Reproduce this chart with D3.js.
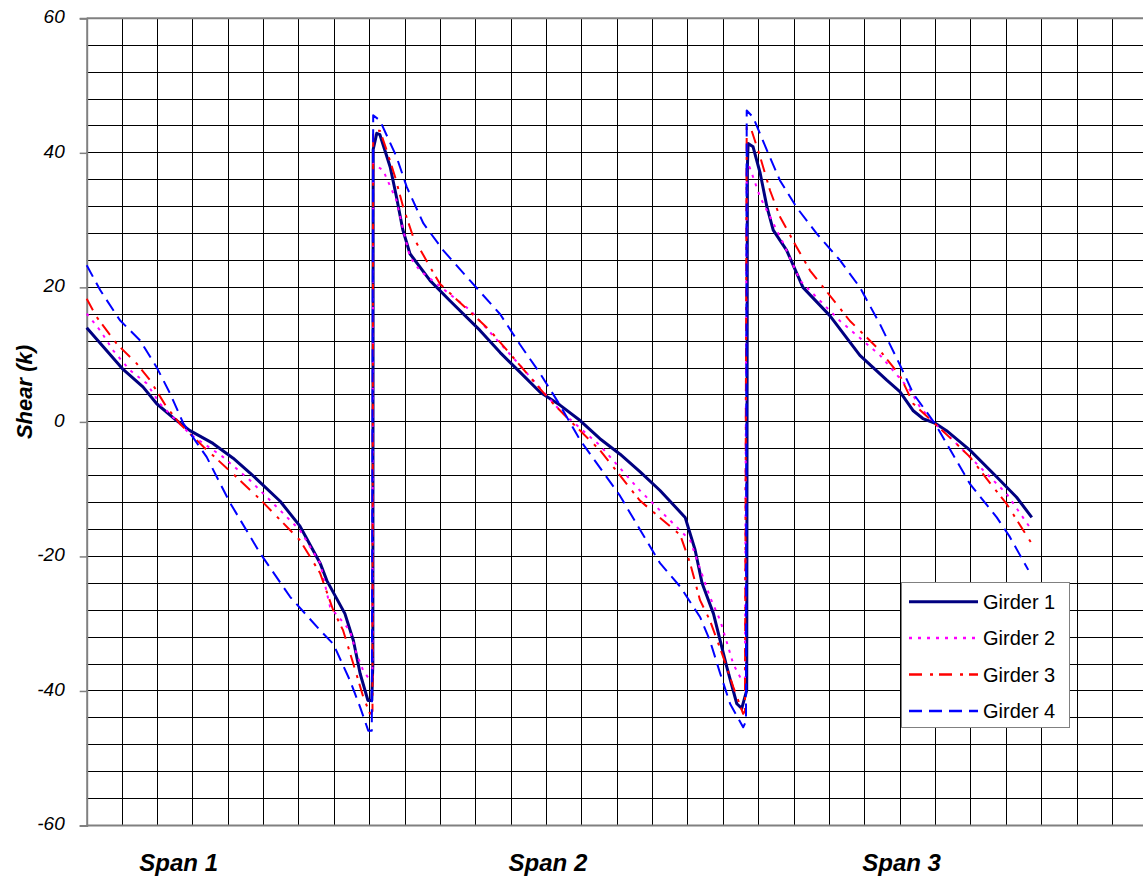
<!DOCTYPE html>
<html>
<head>
<meta charset="utf-8">
<script src="https://cdnjs.cloudflare.com/ajax/libs/d3/7.8.5/d3.min.js"></script>
<style>
  body { margin: 0; background: #fff; }
  svg { display: block; font-family: "Liberation Sans", Arial, sans-serif; }
</style>
</head>
<body>
<svg id="chart"></svg>
<script>
// x in grid units along the bridge, shear in kips
var girder1 = [[0,14.0],[1.03,7.8],[1.59,5.2],[1.98,2.7],[2.54,0.2],[2.92,-1.3],[3.57,-3.2],[4.14,-5.4],
  [4.62,-7.6],[5.47,-11.8],[6.03,-15.5],[6.60,-21],[6.79,-23.6],[7.30,-28.5],[7.54,-32.5],[7.73,-37.4],
  [7.95,-41.4],[8.06,-41.4],[8.09,-36],[8.10,40.5],[8.20,42.9],[8.29,42.7],[8.58,37.9],[8.76,33.4],[8.94,28.5],
  [9.14,25],[9.71,21],[10.27,18],[11.12,13.6],[11.69,10.3],[12.25,7.4],[12.82,4.4],[13.38,2.5],[13.95,0.2],
  [14.51,-2.5],[15.08,-4.8],[15.64,-7.4],[16.21,-10.2],[16.92,-14.2],[17.20,-19],[17.40,-24],[17.72,-28.5],
  [17.91,-32.5],[18.10,-36.5],[18.38,-41.9],[18.52,-42.6],[18.66,-39.9],[18.68,38],[18.70,41.4],[18.84,40.9],
  [19.04,37],[19.23,32],[19.41,28.5],[19.79,25.5],[20.25,20],[21.01,15.8],[21.86,9.9],[22.62,6.2],[22.99,4.5],
  [23.36,1.7],[23.64,0.5],[23.99,-0.2],[24.31,-1.3],[24.97,-4.2],[25.73,-8.2],[26.29,-11.2],[26.72,-14.2]];

var girder2 = [[0,16.1],[0.38,13.6],[0.75,10.6],[1.22,7.7],[1.70,5.7],[2.07,2.7],[2.44,0.7],[2.92,-1.8],
  [3.85,-5.2],[4.62,-8.7],[6.03,-16.1],[6.60,-21],[6.88,-27.5],[7.44,-31],[7.63,-34.5],[7.82,-37],[8.01,-38.4],
  [8.08,-38],[8.10,38.4],[8.38,37.4],[8.76,32.9],[8.95,28.5],[9.14,24.5],[9.42,22.5],[10.84,16.6],[12.25,8.4],
  [13.38,1.7],[14.51,-3.5],[15.64,-10.2],[17.06,-17.6],[17.62,-26],[17.91,-29.5],[18.14,-33.5],[18.28,-36],
  [18.47,-37.9],[18.61,-38.4],[18.66,37.4],[18.74,37.9],[19.04,33.4],[19.32,30.5],[19.70,26.5],[20.17,21],
  [21.30,15],[22.43,9.9],[23.28,4.7],[23.56,2.2],[23.99,-0.3],[24.41,-2.3],[25.16,-6.2],[25.54,-8.2],
  [26.01,-10.7],[26.72,-16.1]];

var girder3 = [[0,18.3],[0.28,15.6],[0.85,11.6],[1.41,8.7],[1.79,6.2],[2.26,2.2],[2.64,-0.3],[3.30,-3.7],
  [4.05,-7.3],[4.90,-11.5],[6.03,-17.6],[6.60,-22.5],[6.97,-28],[7.25,-31],[7.54,-36],[7.82,-40.9],[8.01,-43.4],
  [8.08,-43],[8.10,43.3],[8.29,43.3],[8.48,40.4],[8.72,36.4],[8.95,31.9],[9.23,27.5],[9.71,23],[9.99,20.5],
  [11.40,13.6],[12.25,8.4],[13.10,3.2],[13.66,0.2],[14.51,-4.2],[15.64,-11.7],[16.78,-16.8],[17.06,-21],
  [17.34,-26.5],[17.62,-29.5],[18.00,-35],[18.28,-39.4],[18.56,-43.4],[18.61,-43],[18.66,43.8],[18.80,43.3],
  [19.04,39.4],[19.32,34.4],[19.60,30.5],[20.07,26],[20.45,22.5],[21.58,15],[22.43,10.6],[22.99,6.9],
  [23.37,2.7],[23.99,-0.3],[24.50,-2.8],[24.97,-5.2],[25.63,-9.7],[26.01,-12.2],[26.72,-18.1]];

var girder4 = [[0,23.3],[0.38,19.6],[0.94,15.1],[1.51,12.1],[1.98,8.1],[2.36,4.2],[2.73,-0.2],[3.39,-5.2],
  [4.05,-12],[4.90,-19.5],[5.75,-26],[6.60,-31],[6.97,-33],[7.44,-38.4],[7.73,-42.4],[7.96,-45.9],
  [8.06,-45.9],[8.10,45.6],[8.29,44.8],[8.76,39.4],[9.05,34.9],[9.52,29.5],[10.08,25.5],[10.84,21],
  [11.69,16],[12.25,11.5],[12.82,7.2],[13.38,2.5],[13.95,-2.7],[14.51,-6.8],[15.08,-11],[15.64,-16],
  [16.21,-21],[16.78,-24.5],[17.34,-29],[17.62,-32.5],[17.91,-37.4],[18.19,-41.9],[18.56,-45.4],
  [18.64,-44.5],[18.66,46.3],[18.84,45.3],[19.23,40.4],[19.60,35.9],[20.07,31.9],[20.64,28],[21.30,24],
  [21.86,20],[22.43,14.5],[22.99,8.5],[23.37,4.2],[23.99,-0.3],[24.31,-3.2],[24.97,-9.2],
  [25.73,-14.2],[26.10,-17.1],[26.62,-22]];

var seriesNames = ["Girder 1", "Girder 2", "Girder 3", "Girder 4"];
var yTicks = [-60, -40, -20, 0, 20, 40, 60];
var spanLabels = ["Span 1", "Span 2", "Span 3"];
var spanLabelAt = [2.60, 13.04, 23.04];

var width = 1143, height = 882;
var svg = d3.select("#chart").attr("width", width).attr("height", height);

var x = d3.scaleLinear().domain([0, 30]).range([86.7, 1147.8]);
var y = d3.scaleLinear().domain([-60, 60]).range([825.5, 18.3]);
function crisp(v) { return Math.round(v - 0.5) + 0.5; }

var styles = [
  { color: "#000080", w: 3, dash: null },
  { color: "#ff00ff", w: 2, dash: "3,6" },
  { color: "#ff0000", w: 2, dash: "13,8,3,6" },
  { color: "#0000ff", w: 2, dash: "13,7" }
];

// grid
var grid = svg.append("g");
grid.selectAll(".hg").data(d3.range(-56, 60, 4)).enter().append("line")
  .attr("x1", x(0)).attr("x2", width + 10)
  .attr("y1", function (d) { return crisp(y(d)); }).attr("y2", function (d) { return crisp(y(d)); })
  .attr("stroke", "#000").attr("stroke-width", 1);
grid.selectAll(".vg").data(d3.range(1, 30)).enter().append("line")
  .attr("x1", function (d) { return crisp(x(d)); }).attr("x2", function (d) { return crisp(x(d)); })
  .attr("y1", y(60)).attr("y2", y(-60))
  .attr("stroke", "#000").attr("stroke-width", 1);

// frame
svg.append("line").attr("x1", x(0)).attr("x2", width + 10).attr("y1", y(60)).attr("y2", y(60))
  .attr("stroke", "#808080").attr("stroke-width", 2);
svg.append("line").attr("x1", x(0)).attr("x2", width + 10).attr("y1", y(-60)).attr("y2", y(-60))
  .attr("stroke", "#808080").attr("stroke-width", 2);

// y axis
var yAxis = d3.axisLeft(y).tickValues(yTicks).tickSize(7).tickPadding(15)
  .tickFormat(function (d) { return String(d); });
var ya = svg.append("g").attr("transform", "translate(" + x(0) + ",0)").call(yAxis);
ya.select(".domain").attr("stroke", "#808080").attr("stroke-width", 2);
ya.selectAll(".tick line").attr("stroke", "#808080").attr("stroke-width", 1.5);
ya.selectAll(".tick text")
  .attr("font-size", 19).attr("font-style", "italic")
  .attr("font-family", "'Liberation Sans', Arial, sans-serif").attr("fill", "#000")
  .attr("dy", "0.22em");

svg.append("text")
  .attr("transform", "translate(32,392) rotate(-90)")
  .attr("text-anchor", "middle")
  .attr("font-size", 22).attr("font-weight", "bold").attr("font-style", "italic")
  .text("Shear (k)");

// span labels
svg.selectAll(".span").data(spanLabels).enter().append("text")
  .attr("x", function (d, i) { return x(spanLabelAt[i]); })
  .attr("y", 871)
  .attr("text-anchor", "middle")
  .attr("font-size", 24).attr("font-weight", "bold").attr("font-style", "italic")
  .text(function (d) { return d; });

// series
var line = d3.line().x(function (d) { return x(d[0]); }).y(function (d) { return y(d[1]); });
var allSeries = [girder1, girder2, girder3, girder4];
svg.append("g").selectAll("path").data(allSeries).enter().append("path")
  .attr("d", line)
  .attr("fill", "none")
  .attr("stroke", function (d, i) { return styles[i].color; })
  .attr("stroke-width", function (d, i) { return styles[i].w; })
  .attr("stroke-dasharray", function (d, i) { return styles[i].dash; })
  .attr("stroke-linejoin", "round");

// legend
var lg = svg.append("g").attr("transform", "translate(901,582)");
lg.append("rect").attr("x", 0.5).attr("y", 0.5).attr("width", 168).attr("height", 145)
  .attr("fill", "#fff").attr("stroke", "#808080").attr("stroke-width", 1);
var rows = lg.selectAll(".row").data(seriesNames).enter().append("g")
  .attr("transform", function (d, i) { return "translate(0," + (19.7 + i * 36.4) + ")"; });
rows.append("line").attr("x1", 8).attr("x2", 77).attr("y1", 0).attr("y2", 0)
  .attr("stroke", function (d, i) { return styles[i].color; })
  .attr("stroke-width", function (d, i) { return styles[i].w === 3 ? 3 : 2.5; })
  .attr("stroke-dasharray", function (d, i) { return styles[i].dash; });
rows.append("text").attr("x", 82).attr("y", 7).attr("font-size", 20)
  .text(function (d) { return d; });
</script>
</body>
</html>
